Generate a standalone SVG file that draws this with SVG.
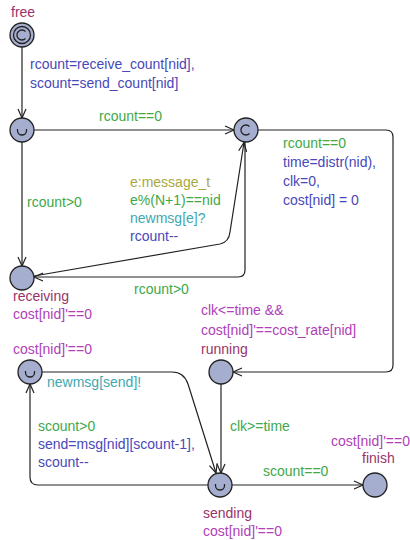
<svg xmlns="http://www.w3.org/2000/svg" width="410" height="540" viewBox="0 0 410 540">
<style>
text{font-family:"Liberation Sans",Arial,sans-serif;font-size:14px}
.nm{fill:#99336a}.inv{fill:#b040b8}.sel{fill:#a8a840}.gd{fill:#40a848}.sy{fill:#40a8b0}.as{fill:#4848b8}
.loc{fill:#a6aed0;stroke:#222;stroke-width:1.3}
.sym{fill:none;stroke:#222;stroke-width:1.3}
.e{fill:none;stroke:#222;stroke-width:1.2;marker-end:url(#ah)}
</style>
<defs>
<marker id="ah" viewBox="-10 -6 12 12" refX="0" refY="0" markerWidth="12" markerHeight="12" markerUnits="userSpaceOnUse" orient="auto">
<path d="M-9,-4 L0,0 L-9,4" fill="none" stroke="#222" stroke-width="1.2"/>
</marker>
</defs>
<rect width="410" height="540" fill="#fff"/>
<g id="edges">
<path class="e" d="M22,47 V118"/>
<path class="e" d="M34,130 H234"/>
<path class="e" d="M22,142 V266"/>
<path class="e" d="M34,276 L220,244 Q229,242 230,232 L244,142.5"/>
<path class="e" d="M245,142 V270 Q245,277 238,277 H34"/>
<path class="e" d="M258,130 H386 Q393,130 393,137 V365 Q393,372 386,372 H233"/>
<path class="e" d="M221,384 V473"/>
<path class="e" d="M42,372 H172 Q184,372 188,384 L216,473"/>
<path class="e" d="M208,485 H38 Q30,485 30,477 V384"/>
<path class="e" d="M232,485 H363"/>
</g>
<g id="edge-labels">
<text class="as" x="30" y="69">rcount=receive_count[nid],</text>
<text class="as" x="30" y="88">scount=send_count[nid]</text>
<text class="gd" x="99" y="121">rcount==0</text>
<text class="gd" x="27" y="207">rcount&gt;0</text>
<text class="sel" x="130" y="187">e:message_t</text>
<text class="gd" x="130" y="205">e%(N+1)==nid</text>
<text class="sy" x="130" y="223">newmsg[e]?</text>
<text class="as" x="130" y="241">rcount--</text>
<text class="gd" x="134" y="294">rcount&gt;0</text>
<text class="gd" x="283" y="148">rcount==0</text>
<text class="as" x="283" y="167">time=distr(nid),</text>
<text class="as" x="283" y="186">clk=0,</text>
<text class="as" x="283" y="205">cost[nid] = 0</text>
<text class="sy" x="47" y="387">newmsg[send]!</text>
<text class="gd" x="230" y="431">clk&gt;=time</text>
<text class="gd" x="38" y="431">scount&gt;0</text>
<text class="as" x="38" y="449">send=msg[nid][scount-1],</text>
<text class="as" x="38" y="467">scount--</text>
<text class="gd" x="263" y="476">scount==0</text>
</g>
<g id="free">
<circle class="loc" cx="22" cy="35" r="12"/>
<circle class="sym" cx="22" cy="35" r="8.5"/>
<path class="sym" d="M25.5,31.5 A5,5 0 1 0 25.5,38.5"/>
<text class="nm" x="11" y="17">free</text>
</g>
<g id="start">
<circle class="loc" cx="22" cy="130" r="12"/>
<path class="sym" d="M17.5,129 V130.5 A4.5,4.5 0 0 0 26.5,130.5 V129"/>
</g>
<g id="check">
<circle class="loc" cx="246" cy="130" r="12"/>
<path class="sym" d="M249.5,126.5 A5,5 0 1 0 249.5,133.5"/>
</g>
<g id="receiving">
<circle class="loc" cx="22" cy="278" r="12"/>
<text class="nm" x="13" y="301">receiving</text>
<text class="inv" x="13" y="319">cost[nid]'==0</text>
</g>
<g id="running">
<circle class="loc" cx="221" cy="372" r="12"/>
<text class="inv" x="201" y="315">clk&lt;=time &amp;&amp;</text>
<text class="inv" x="201" y="335">cost[nid]'==cost_rate[nid]</text>
<text class="nm" x="201" y="354">running</text>
</g>
<g id="sendmsg">
<circle class="loc" cx="30" cy="372" r="12"/>
<path class="sym" d="M25.5,371 V372.5 A4.5,4.5 0 0 0 34.5,372.5 V371"/>
<text class="inv" x="13" y="354">cost[nid]'==0</text>
</g>
<g id="sending">
<circle class="loc" cx="220" cy="485" r="12"/>
<path class="sym" d="M215.5,484 V485.5 A4.5,4.5 0 0 0 224.5,485.5 V484"/>
<text class="nm" x="203" y="518">sending</text>
<text class="inv" x="203" y="536">cost[nid]'==0</text>
</g>
<g id="finish">
<circle class="loc" cx="375" cy="485" r="12"/>
<text class="inv" x="331" y="446">cost[nid]'==0</text>
<text class="nm" x="362" y="463">finish</text>
</g>
</svg>
